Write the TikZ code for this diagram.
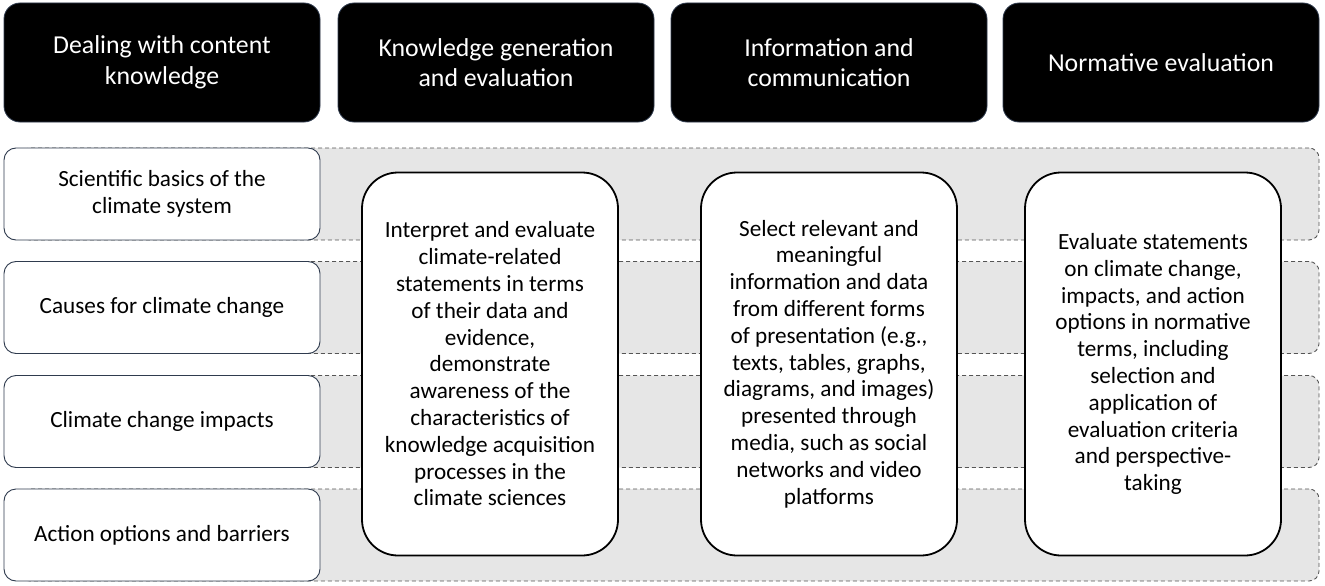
\documentclass[tikz,border=0pt]{standalone}
\usepackage{fontspec}
\setmainfont{Carlito}
\definecolor{bandfill}{HTML}{E6E6E6}
\definecolor{banddash}{HTML}{555555}
\definecolor{slate}{HTML}{2F3B4E}
\begin{document}
\begin{tikzpicture}[x=1pt,y=-1pt,
  header/.style={draw=slate,line width=0.8pt,fill=black,text=white,rounded corners=16pt,
    minimum width=316pt,minimum height=119pt,align=center,inner sep=0pt,
    font=\fontsize{25.8}{30.5}\selectfont},
  rowbox/.style={draw=slate,line width=0.9pt,fill=white,rounded corners=12pt,
    minimum width=316pt,minimum height=92pt,align=center,inner sep=0pt,
    font=\fontsize{23.2}{27}\selectfont},
  band/.style={draw=banddash,line width=0.9pt,dash pattern=on 4pt off 3pt,fill=bandfill,
    rounded corners=10pt,minimum width=1299pt,minimum height=92pt,inner sep=0pt},
  bigbox/.style={draw=black,line width=1.8pt,fill=white,rounded corners=36pt,
    minimum width=256pt,minimum height=383pt,align=center,inner sep=0pt,
    font=\fontsize{23.2}{26.8}\selectfont}]
\useasboundingbox (0,0) rectangle (1325,586);
% bands
\node[band] (b1) at (669.5,194) {};
\node[band] (b2) at (669.5,307.5) {};
\node[band] (b3) at (669.5,421.5) {};
\node[band] (b4) at (669.5,535) {};
% row boxes
\node[rowbox] (r1) at (162,194) {Scientific basics of the\\climate system};
\node[rowbox] (r2) at (162,307.5) {Causes for climate change};
\node[rowbox] (r3) at (162,421.5) {Climate change impacts};
\node[rowbox] (r4) at (162,535) {Action options and barriers};
% big boxes
\node[bigbox] (k1) at (490,364) {Interpret and evaluate\\climate-related\\statements in terms\\of their data and\\evidence,\\demonstrate\\awareness of the\\characteristics of\\knowledge acquisition\\processes in the\\climate sciences};
\node[bigbox] (k2) at (829,364) {Select relevant and\\meaningful\\information and data\\from different forms\\of presentation (e.g.,\\texts, tables, graphs,\\diagrams, and images)\\presented through\\media, such as social\\networks and video\\platforms};
\node[bigbox] (k3) at (1153,364) {Evaluate statements\\on climate change,\\impacts, and action\\options in normative\\terms, including\\selection and\\application of\\evaluation criteria\\and perspective-\\taking};
% headers
\node[header] (h1) at (162,62.5) {Dealing with content\\knowledge};
\node[header] (h2) at (496,62.5) {Knowledge generation\\and evaluation};
\node[header] (h3) at (829,62.5) {Information and\\communication};
\node[header] (h4) at (1161,62.5) {Normative evaluation};
\end{tikzpicture}
\end{document}
